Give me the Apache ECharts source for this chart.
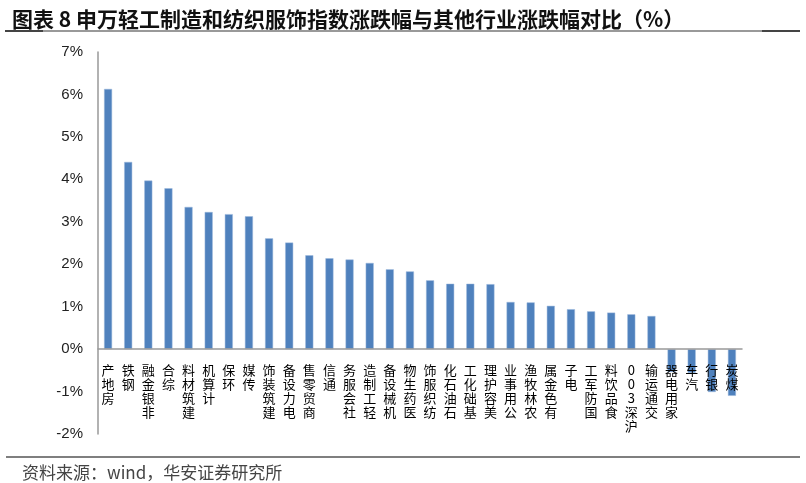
<!DOCTYPE html>
<html>
<head>
<meta charset="utf-8">
<script src="https://cdn.jsdelivr.net/npm/echarts@6/dist/echarts.min.js"></script>
<style>
html,body{margin:0;padding:0;background:#fff;}
#chart{width:806px;height:483px;}
</style>
</head>
<body>
<div id="chart"></div>
<script>
var categories = ['房地产','钢铁','非银金融','综合','建筑材料','计算机','环保','传媒','建筑装饰','电力设备','商贸零售','通信','社会服务','轻工制造','机械设备','医药生物','纺织服饰','石油石化','基础化工','美容护理','公用事业','农林牧渔','有色金属','电子','国防军工','食品饮料','沪深300','交通运输','家用电器','汽车','银行','煤炭'];
var values = [6.13,4.41,3.97,3.79,3.35,3.23,3.18,3.13,2.61,2.51,2.21,2.14,2.11,2.03,1.88,1.83,1.62,1.54,1.54,1.53,1.11,1.10,1.02,0.94,0.89,0.86,0.82,0.78,-0.54,-0.56,-1.01,-1.10];
var titleText = '图表 8 申万轻工制造和纺织服饰指数涨跌幅与其他行业涨跌幅对比（%）';
var sourceText = '资料来源：wind，华安证券研究所';

var chart = echarts.init(document.getElementById('chart'), null, {renderer:'canvas'});
chart.setOption({
  animation:false,
  backgroundColor:'#fff',
  title:[{
    text:titleText, left:7, top:4,
    textStyle:{fontFamily:'Noto Sans CJK SC', fontWeight:'bold', fontSize:21, color:'#111'}
  },{
    text:sourceText, left:17, top:459,
    textStyle:{fontFamily:'Noto Sans CJK SC', fontWeight:'normal', fontSize:17, color:'#444'}
  }],
  graphic:[
    {type:'line', shape:{x1:5,y1:31,x2:800,y2:31}, style:{stroke:'#999', lineWidth:2}},
    {type:'line', shape:{x1:5,y1:31,x2:43,y2:31}, style:{stroke:'#444', lineWidth:2}},
    {type:'line', shape:{x1:762,y1:31,x2:800,y2:31}, style:{stroke:'#444', lineWidth:2}},
    {type:'line', shape:{x1:6,y1:457,x2:800,y2:457}, style:{stroke:'#555', lineWidth:1.5}}
  ],
  grid:{left:98, right:64, top:52, bottom:49, containLabel:false, outerBoundsMode:'none'},
  xAxis:{
    type:'category', data:categories, z:10,
    axisLine:{show:true, onZero:true, lineStyle:{color:'#999', width:1.5}},
    axisTick:{show:false},
    axisLabel:{
      interval:0, margin:-71, fontSize:13, lineHeight:14, color:'#000',
      fontFamily:'Noto Sans CJK SC', hideOverlap:false,
      formatter:function(v){ return v.split('').reverse().join('\n'); }
    }
  },
  yAxis:{
    type:'value', min:-2, max:7, interval:1,
    axisLine:{show:true, lineStyle:{color:'#999', width:1.5}},
    axisTick:{show:false},
    splitLine:{show:false},
    axisLabel:{formatter:'{value}%', fontSize:15, color:'#222', margin:15, fontFamily:'Liberation Sans'}
  },
  series:[{
    type:'bar', data:values, barWidth:8, z:1,
    itemStyle:{color:'#4F81BD', borderColor:'#9DB8DC', borderWidth:0.5}
  }]
});
</script>
</body>
</html>
